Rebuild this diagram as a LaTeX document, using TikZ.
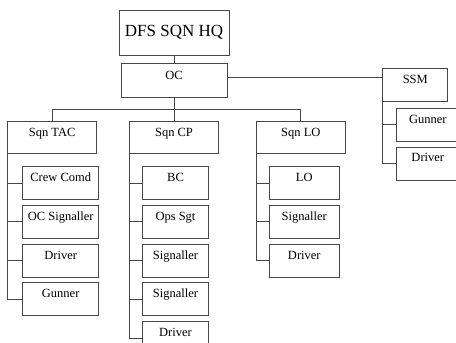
\documentclass[tikz,border=0pt]{standalone}
\usepackage{fontspec}
\setmainfont{Liberation Serif}
\definecolor{LineGray}{RGB}{70,70,70}
\definecolor{BoxWhite}{RGB}{255,255,255}
\newcommand{\orgsmall}{\fontsize{12.5}{14}\selectfont}
\newcommand{\orgbig}{\fontsize{17}{20}\selectfont}
\usetikzlibrary{
    positioning
}

\begin{document}
\begin{tikzpicture}[
    x=1pt,
    y=1pt,
%
    unit/.style={
        draw=LineGray,
        fill=BoxWhite,
        inner xsep=0pt,
        inner ysep=0pt,
        text height=15pt,
        text depth=18pt,
        font=\orgsmall,
        line width=0.8pt
    },
%
    squadron/.style={
        unit,
        minimum width=89pt,
        text depth=17pt
    },
%
    headq/.style={
        draw=LineGray,
        fill=BoxWhite,
        minimum width=110pt,
        minimum height=45pt,
        font=\orgbig,
        line width=0.8pt
    },
%
    link/.style={
        line width=0.8pt,
        color=LineGray
    }
]
\useasboundingbox (0,0) rectangle (456,-343);
%
% Headquarters and OC
%
\node[headq] (hq) at (174,-32.5) {DFS SQN HQ};
%
\node[
    unit,
    minimum width=106pt,
    text height=16pt,
    below=8pt of hq
] (oc) {
    OC
};
%
\node[
    unit,
    minimum width=65pt,
    right=155pt of oc,
    yshift=-4pt
] (ssm) {
    SSM
};
%
\draw[link] (hq) -- (oc);
\draw[link] ([yshift=3pt]oc.east) -- ([yshift=3pt]oc.east -| ssm.west);
%
% Squadron row
%
\node[
    squadron,
    below=23pt of oc
] (cp) {
    Sqn CP
};
%
\node[
    squadron,
    left=32pt of cp
] (tac) {
    Sqn TAC
};
%
\node[
    squadron,
    right=37pt of cp
] (lo) {
    Sqn LO
};
%
\draw[link] (oc) -- (cp);
\draw[link] (tac.north) -- ++(0,12) -| (lo.north);
%
% Sqn TAC column
%
\node[
    unit,
    minimum width=76pt,
    below right=12pt and 15pt of tac.south west
] (tcrew) {
    Crew Comd
};
%
\node[
    unit,
    minimum width=76pt,
    below=5pt of tcrew
] (tsig) {
    OC Signaller
};
%
\node[
    unit,
    minimum width=76pt,
    below=5pt of tsig
] (tdrv) {
    Driver
};
%
\node[
    unit,
    minimum width=76pt,
    below=5pt of tdrv
] (tgun) {
    Gunner
};
%
\draw[link] (tac.south west) |- (tcrew.west);
\draw[link] (tac.south west) |- (tsig.west);
\draw[link] (tac.south west) |- (tdrv.west);
\draw[link] (tac.south west) |- (tgun.west);
%
% Sqn CP column
%
\node[
    unit,
    minimum width=66pt,
    below right=12pt and 13pt of cp.south west
] (cbc) {
    BC
};
%
\node[
    unit,
    minimum width=66pt,
    below=5pt of cbc
] (cops) {
    Ops Sgt
};
%
\node[
    unit,
    minimum width=66pt,
    below=5pt of cops
] (csig) {
    Signaller
};
%
\node[
    unit,
    minimum width=66pt,
    below=5pt of csig
] (csigb) {
    Signaller
};
%
\node[
    unit,
    minimum width=66pt,
    below=5pt of csigb
] (cdrv) {
    Driver
};
%
\draw[link] (cp.south west) |- (cbc.west);
\draw[link] (cp.south west) |- (cops.west);
\draw[link] (cp.south west) |- (csig.west);
\draw[link] (cp.south west) |- (csigb.west);
\draw[link] (cp.south west) |- (cdrv.west);
%
% Sqn LO column
%
\node[
    unit,
    minimum width=70pt,
    below right=12pt and 13pt of lo.south west
] (llo) {
    LO
};
%
\node[
    unit,
    minimum width=70pt,
    below=5pt of llo
] (lsig) {
    Signaller
};
%
\node[
    unit,
    minimum width=70pt,
    below=5pt of lsig
] (ldrv) {
    Driver
};
%
\draw[link] (lo.south west) |- (llo.west);
\draw[link] (lo.south west) |- (lsig.west);
\draw[link] (lo.south west) |- (ldrv.west);
%
% SSM column
%
\node[
    unit,
    minimum width=62pt,
    below right=6pt and 14pt of ssm.south west
] (sgun) {
    Gunner
};
%
\node[
    unit,
    minimum width=62pt,
    below=5pt of sgun
] (sdrv) {
    Driver
};
%
\draw[link] (ssm.south west) |- (sgun.west);
\draw[link] (ssm.south west) |- (sdrv.west);
%
\end{tikzpicture}
\end{document}
